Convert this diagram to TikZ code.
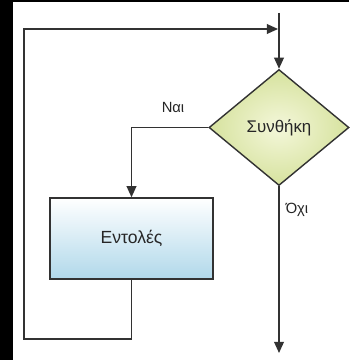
\documentclass[tikz,border=0pt]{standalone}
\usepackage{fontspec}
\setmainfont{Liberation Sans}
\usepackage{xcolor}
\usetikzlibrary{shapes.geometric,arrows.meta,positioning,calc}

\definecolor{lnc}{RGB}{50,50,50}
\definecolor{condin}{RGB}{244,247,218}
\definecolor{condout}{RGB}{214,226,158}
\definecolor{bodybot}{RGB}{176,216,234}

\begin{document}
\begin{tikzpicture}[x=0.025cm,y=-0.025cm,
  cond/.style={diamond,draw=lnc,line width=1pt,inner sep=0pt,minimum width=3.5cm,minimum height=2.9cm,
    shading=radial,inner color=condin,outer color=condout,font=\fontsize{12}{14}\selectfont,text=black!85},
  body/.style={rectangle,draw=lnc,line width=1pt,minimum width=4.075cm,minimum height=2.025cm,
    top color=white,bottom color=bodybot,font=\fontsize{12.5}{14}\selectfont,text=black!85},
  lbl/.style={font=\fontsize{10.5}{12}\selectfont,text=black!85},
  arr/.style={-{Triangle[length=8pt,width=7pt]},draw=lnc,line width=1pt}]
% page and the dark band on the left
\fill[white] (0,0) rectangle (349,360);
\fill[black] (0,0) rectangle (13,360);
\fill[black] (13,0) rectangle (349,2);
\useasboundingbox (0,0) rectangle (349,360);
\node[cond] (c) at (279,127.5) {Συνθήκη};
\node[body] (e) at (131.5,238.5) {Εντολές};
\coordinate (in) at (279,13);
\coordinate (out) at (279,353);
\coordinate (lb) at (24,339);
\coordinate (lt) at (24,29);
\coordinate (back) at (278,29);
\draw[arr] (in) -- (c.north);
\draw[arr] (c.west) -| (e.north);
\draw[arr] (c.south) -- (out);
\draw[arr] (e.south) |- (lb) -- (lt) -- (back);
\node[lbl] at (173,107) {Ναι};
\node[lbl] at (297,210) {Όχι};
\end{tikzpicture}
\end{document}
